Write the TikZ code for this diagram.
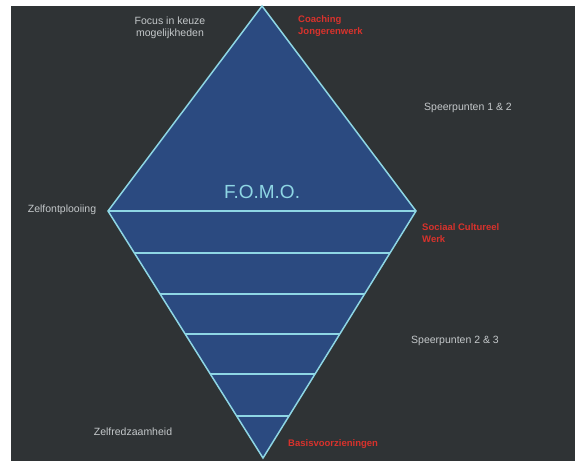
\documentclass[tikz,border=0pt]{standalone}
\usepackage{fontspec}
\setmainfont{Liberation Sans}
\usetikzlibrary{calc}
\definecolor{bgdark}{HTML}{2F3335}
\definecolor{fomoblue}{HTML}{2B4A80}
\definecolor{edgecyan}{HTML}{8ED6E4}
\definecolor{greytxt}{HTML}{C4C8CA}
\definecolor{redtxt}{HTML}{D8322C}
\tikzset{
  lbl/.style={text=greytxt, font=\fontsize{10.5}{12}\selectfont, align=center, inner sep=0pt},
  redlbl/.style={text=redtxt, font=\fontsize{9.5}{12}\selectfont\bfseries, align=left, inner sep=0pt, anchor=west},
  edge/.style={draw=edgecyan, line width=1.5pt, line join=miter},
}
\begin{document}
\begin{tikzpicture}[x=1pt,y=-1pt]
\useasboundingbox (0,0) rectangle (575,461);
\fill[white] (0,0) rectangle (575,461);
\fill[bgdark] (11,6) rectangle (575,461);
\coordinate (T) at (262,6);
\coordinate (L) at (108,211);
\coordinate (R) at (416,211);
\coordinate (B) at (263,458);
\fill[fomoblue] (T) -- (R) -- (B) -- (L) -- cycle;
\draw[edge] (T) -- (R) -- (B) -- (L) -- cycle;
\draw[edge] (L) -- (R);
\foreach \t/\n in {0.170/a,0.336/b,0.498/c,0.660/d,0.830/e}{
  \coordinate (l\n) at ($(L)!\t!(B)$);
  \coordinate (r\n) at ($(R)!\t!(B)$);
  \draw[edge] (l\n) -- (r\n);
}
\node[text=edgecyan, font=\fontsize{19}{22}\selectfont, inner sep=0pt] (fomo) at (262,192) {F.O.M.O.};
\node[lbl] (focus) at (170,28) {Focus in keuze\\mogelijkheden};
\node[lbl] (sp12) at (468,108) {Speerpunten 1 \& 2};
\node[lbl] (zelfo) at (62,210) {Zelfontplooiing};
\node[lbl] (sp23) at (455,341) {Speerpunten 2 \& 3};
\node[lbl] (zelfr) at (133,432) {Zelfredzaamheid};
\node[redlbl] (coach) at (298,26) {Coaching\\Jongerenwerk};
\node[redlbl] (scw) at (422,233) {Sociaal Cultureel\\Werk};
\node[redlbl] (basis) at (288,444) {Basisvoorzieningen};
\end{tikzpicture}
\end{document}
